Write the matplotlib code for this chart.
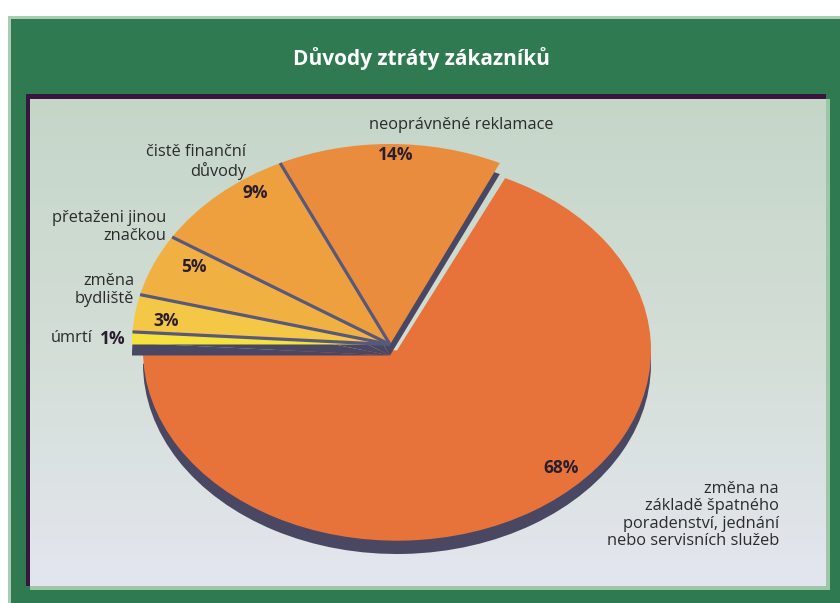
import numpy as np
import matplotlib
matplotlib.use("Agg")
import matplotlib.pyplot as plt
from matplotlib.patches import Rectangle
from matplotlib.colors import LinearSegmentedColormap

# --- data -------------------------------------------------------------
title = "Důvody ztráty zákazníků"
categories = [
    "úmrtí",
    "změna\nbydliště",
    "přetaženi jinou\nznačkou",
    "čistě finanční\ndůvody",
    "neoprávněné reklamace",
    "změna na\nzákladě špatného\nporadenství, jednání\nnebo servisních služeb",
]
shares = [1, 3, 5, 9, 14, 68]
slice_colors = ["#f6e23c", "#f4c746", "#f1b142", "#eea03e", "#ea8c3d", "#e8733a"]

W, H = 840, 603
plt.rcParams["font.family"] = ["Open Sans", "DejaVu Sans"]

fig = plt.figure(figsize=(W / 100, H / 100), dpi=100)
fig.patch.set_facecolor("white")

# --- frame and panel --------------------------------------------------
bg = fig.add_axes([0, 0, 1, 1], zorder=0)
bg.set_xlim(0, W)
bg.set_ylim(H, 0)
bg.axis("off")

green = "#2f7a50"
bg.add_patch(Rectangle((8, 16), W - 8, H - 16, facecolor="#a9ccb2", edgecolor="none"))
bg.add_patch(Rectangle((11, 19), W - 11, H - 19, facecolor=green, edgecolor="none"))

px0, py0, px1, py1 = 30, 99, 826, 586
# bevel: light bottom/right, dark top/left
bg.add_patch(Rectangle((px0, py0), px1 - px0 + 4, py1 - py0 + 4, facecolor="#9cc7a6", edgecolor="none"))
bg.add_patch(Rectangle((px0 - 4, py0 - 5), px1 - px0 + 4, py1 - py0 + 5, facecolor="#36163e", edgecolor="none"))
grad_cmap = LinearSegmentedColormap.from_list("panel", ["#c5d6c9", "#d3ded6", "#e4e6ef"])
grad = np.linspace(0, 1, 256).reshape(-1, 1)
bg.imshow(grad, cmap=grad_cmap, extent=(px0, px1, py1, py0), aspect="auto", zorder=2)

bg.text(421, 59, title, color="white", fontsize=15, fontweight="bold",
        ha="center", va="center")

# --- pie helpers ------------------------------------------------------
side_color = "#4a4763"
line_color = "#56587c"


def pie_axes(cx, cy, rx, ry, z):
    a = fig.add_axes([(cx - rx) / W, (H - cy - ry) / H, 2 * rx / W, 2 * ry / H], zorder=z)
    a.patch.set_alpha(0)
    return a


def draw_pie(a, keep, depth, sep_lw):
    # side (depth) of the disc, then the top face
    side, _ = a.pie(shares, startangle=180, counterclock=False, center=(0, -depth),
                    radius=1, colors=[side_color] * len(shares),
                    wedgeprops=dict(linewidth=0), frame=True)
    top, _ = a.pie(shares, startangle=180, counterclock=False, center=(0, 0),
                   radius=1, colors=slice_colors,
                   wedgeprops=dict(linewidth=0), frame=True)
    edges = []
    for i, (s, t) in enumerate(zip(side, top)):
        vis = i in keep
        s.set_visible(vis)
        t.set_visible(vis)
        if vis:
            edges += [round(t.theta1, 6) % 360, round(t.theta2, 6) % 360]
    # separators only where two visible slices meet
    if sep_lw > 0:
        for ang in set(edges):
            if edges.count(ang) == 2:
                r = np.deg2rad(ang)
                a.plot([0, np.cos(r)], [0, np.sin(r)], color=line_color,
                       lw=sep_lw, solid_capstyle="butt", zorder=5)
    a.set_aspect("auto")
    a.set_xlim(-1, 1)
    a.set_ylim(-1 - depth, 1)
    a.axis("off")


n = len(shares)
big = pie_axes(397, 357, 254, 197, 2)
draw_pie(big, keep=[n - 1], depth=0.07, sep_lw=0)

small = pie_axes(390, 350, 258, 206, 3)
draw_pie(small, keep=list(range(n - 1)), depth=0.055, sep_lw=2.3)

# --- labels -----------------------------------------------------------
tx = fig.add_axes([0, 0, 1, 1], zorder=5)
tx.set_xlim(0, W)
tx.set_ylim(H, 0)
tx.axis("off")
tx.patch.set_alpha(0)

txt_color = "#2b2b2b"
pct_color = "#2a1e2e"
fs = 11.8

cat_pos = [(93, 338, "right"), (134, 290, "right"), (166, 227, "right"),
           (246, 162, "right"), (461, 125, "center"), (779, 515, "right")]
pct_pos = [(113, 339), (166, 321), (194, 267), (255, 193), (396, 155), (561, 468)]

for label, (x, y, ha) in zip(categories, cat_pos):
    tx.text(x, y, label, ha=ha, va="center", fontsize=fs, color=txt_color,
            multialignment=ha, linespacing=1.12)
for v, (x, y) in zip(shares, pct_pos):
    tx.text(x, y, f"{v}%", ha="center", va="center", fontsize=12.5,
            fontweight="bold", color=pct_color)

fig.savefig("out.png", dpi=100)
